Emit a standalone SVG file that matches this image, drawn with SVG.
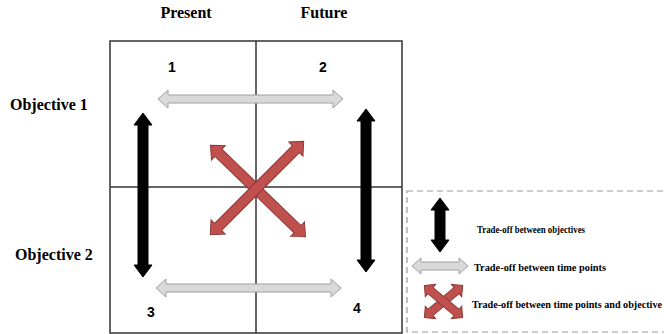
<svg xmlns="http://www.w3.org/2000/svg" width="664" height="334" viewBox="0 0 664 334">
  <style>
    .head { font-family: "Liberation Serif", "Times New Roman", serif; font-weight: bold; font-size: 16px; fill: #000; }
    .num { font-family: "Liberation Sans", Arial, sans-serif; font-weight: bold; font-size: 14px; fill: #000; }
    .leg { font-family: "Liberation Serif", "Times New Roman", serif; font-weight: bold; font-size: 10px; fill: #000; }
    .grid { fill: none; stroke: #333; stroke-width: 1.5; }
    .blk { fill: #000; stroke: #000; stroke-width: 1; }
    .gry { fill: #d9d9d9; stroke: #a0a0a0; stroke-width: 1; }
    .red { fill: #c0504d; stroke: #8c3a38; stroke-width: 1; }
  </style>
  <defs>
    <!-- double-headed arrow shapes centred on the origin -->
    <polygon id="redArrow" points="-66,0 -55,-10 -55,-5 55,-5 55,-10 66,0 55,10 55,5 -55,5 -55,10"/>
    <polygon id="redSmall" points="-25,0 -17,-8 -17,-4 17,-4 17,-8 25,0 17,8 17,4 -17,4 -17,8"/>
  </defs>

  <rect width="664" height="334" fill="#fff"/>

  <!-- column and row headings -->
  <g id="col-present"><text class="head" x="186" y="18" text-anchor="middle">Present</text></g>
  <g id="col-future"><text class="head" x="324" y="18" text-anchor="middle">Future</text></g>
  <g id="row-objective1"><text class="head" x="10" y="110">Objective 1</text></g>
  <g id="row-objective2"><text class="head" x="15" y="260">Objective 2</text></g>

  <!-- 2x2 grid -->
  <g id="grid">
    <rect class="grid" x="110" y="41" width="292" height="292"/>
    <line class="grid" x1="256" y1="41" x2="256" y2="333"/>
    <line class="grid" x1="110" y1="187" x2="402" y2="187"/>
  </g>

  <!-- cell numbers -->
  <g id="cell-1"><text class="num" x="172" y="72" text-anchor="middle">1</text></g>
  <g id="cell-2"><text class="num" x="323" y="72" text-anchor="middle">2</text></g>
  <g id="cell-3"><text class="num" x="151" y="317" text-anchor="middle">3</text></g>
  <g id="cell-4"><text class="num" x="357" y="313" text-anchor="middle">4</text></g>

  <!-- trade-off arrows -->
  <g id="connectors">
    <!-- between time points -->
    <polygon class="gry" points="158,99 168,90 168,95 333,95 333,90 343,99 333,108 333,103 168,103 168,108"/>
    <polygon class="gry" points="156,288 166,279 166,284 331,284 331,279 341,288 331,297 331,292 166,292 166,297"/>
    <!-- between objectives -->
    <polygon class="blk" points="143,113 152,125 148,125 148,265 152,265 143,277 134,265 138,265 138,125 134,125"/>
    <polygon class="blk" points="366,109 375,121 371,121 371,260 375,260 366,272 357,260 361,260 361,121 357,121"/>
    <!-- between time points and objectives -->
    <use href="#redArrow" class="red" transform="translate(258,191) rotate(44)"/>
    <use href="#redArrow" class="red" transform="translate(257,188) rotate(-45)"/>
  </g>

  <!-- legend -->
  <g id="legend">
    <rect x="407" y="191" width="270" height="141" fill="none" stroke="#999" stroke-width="1.2" stroke-dasharray="6,4"/>
    <polygon class="blk" points="440,198 449,210 445,210 445,240 449,240 440,252 431,240 435,240 435,210 431,210"/>
    <text class="leg" x="477" y="233" textLength="108" lengthAdjust="spacingAndGlyphs">Trade-off between objectives</text>
    <polygon class="gry" points="412,266 421,258 421,262 459,262 459,258 468,266 459,274 459,270 421,270 421,274"/>
    <text class="leg" x="474" y="271" textLength="132" lengthAdjust="spacingAndGlyphs">Trade-off between time points</text>
    <use href="#redSmall" class="red" transform="translate(443.5,301.5) rotate(-40)"/>
    <use href="#redSmall" class="red" transform="translate(443.5,301.5) rotate(40)"/>
    <text class="leg" x="472" y="308" textLength="190" lengthAdjust="spacingAndGlyphs">Trade-off between time points and objective</text>
  </g>
</svg>
